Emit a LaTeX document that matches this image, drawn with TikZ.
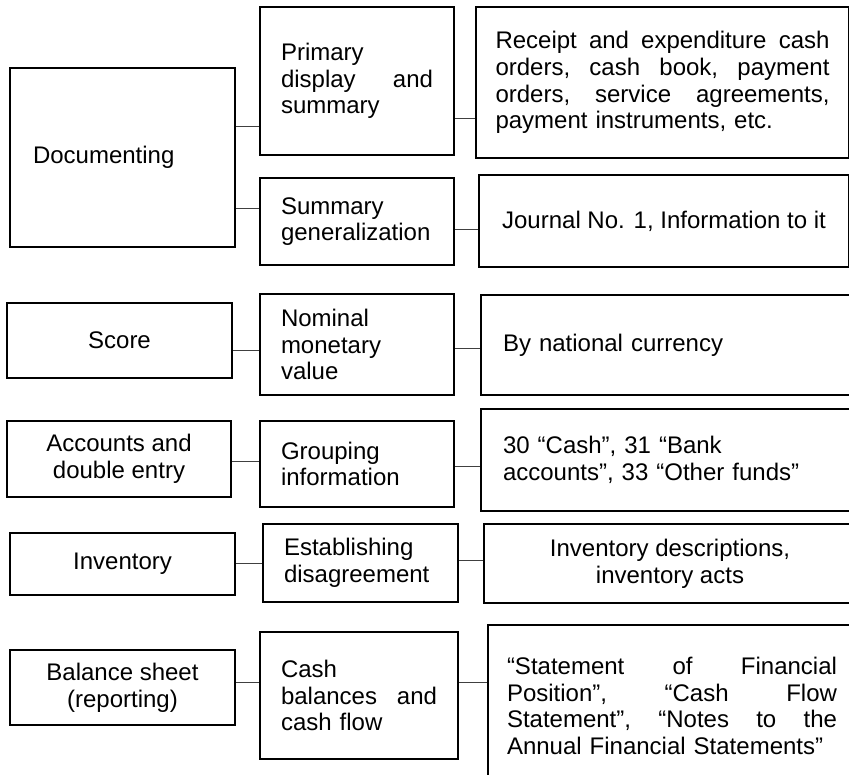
\documentclass[tikz,border=0pt]{standalone}
\usepackage{fontspec}
\setmainfont{Liberation Sans}
\usepackage{tikz}
\usetikzlibrary{positioning, calc}
\tikzset{cell/.style = {
  % Rectangle:
  rectangle,
  draw=black, line width=2pt,
  inner xsep=0pt, inner ysep=0pt,
  anchor=north west,
  % Text:
  font=\fontsize{24}{26.7}\selectfont
  }}
\tikzset{lefttext/.style = {
  % Rectangle:
  cell,
  % Text:
  align=left
  }}
\tikzset{midtext/.style = {
  % Rectangle:
  cell,
  % Text:
  align=center
  }}
\tikzset{link/.style = {
  draw=black!75,
  line width=1pt
  }}

\begin{document}
\begin{tikzpicture}[x=1pt, y=-1pt]
  \useasboundingbox (0,0) rectangle (849,775);
  \clip (0,0) rectangle (849,775);
  %
  % Specification of nodes
  %
  \node (doc) [lefttext, minimum width=225pt, minimum height=179pt, text width=179pt] at (9,67) {Documenting};
  \node (score) [midtext, minimum width=225pt, minimum height=75pt] at (6,302) {Score};
  \node (accounts) [midtext, minimum width=224pt, minimum height=76pt] at (6,420) {Accounts and\\double entry};
  \node (inventory) [midtext, minimum width=225pt, minimum height=62pt] at (9,532) {Inventory};
  \node (balance) [midtext, minimum width=225pt, minimum height=75pt] at (9,649) {Balance sheet\\(reporting)};

  \node (primary) [lefttext, minimum width=194pt, minimum height=148pt, text width=152pt] at (259,6) {Primary\\display\hfill and\\summary};
  \node (summary) [lefttext, minimum width=194pt, minimum height=87pt, text width=152pt] at (259,177) {Summary\\generalization};
  \node (nominal) [lefttext, minimum width=194pt, minimum height=101pt, text width=152pt] at (259,293) {Nominal\\monetary\\value};
  \node (grouping) [lefttext, minimum width=194pt, minimum height=86pt, text width=152pt] at (259,420) {Grouping\\information};
  \node (mismatch) [lefttext, minimum width=195pt, minimum height=78pt, text width=153pt] at (262,523) {Establishing\\disagreement};
  \node (cashflow) [lefttext, minimum width=198pt, minimum height=127pt, text width=156pt] at (259,631) {Cash\\balances\hfill and\\cash flow};

  \node (orders) [lefttext, minimum width=373pt, minimum height=151pt, text width=334pt] at (475,6)
    {Receipt\hfill and\hfill expenditure\hfill cash\\orders,\hfill cash\hfill book,\hfill payment\\orders,\hfill service\hfill agreements,\\payment instruments, etc.};
  \node (journal) [midtext, minimum width=370pt, minimum height=92pt] at (478,174) {Journal No. 1, Information to it};
  \node (currency) [lefttext, minimum width=375pt, minimum height=100pt, text width=331pt] at (480,294) {By national currency};
  \node (funds) [lefttext, minimum width=375pt, minimum height=102pt, text width=331pt] at (480,408) {30 “Cash”, 31 “Bank\\accounts”, 33 “Other funds”};
  \node (acts) [midtext, minimum width=372pt, minimum height=79pt] at (483,523) {Inventory descriptions,\\inventory acts};
  \node (reports) [lefttext, minimum width=368pt, minimum height=162pt, text width=330pt] at (487,624)
    {“Statement\hfill of\hfill Financial\\Position”,\hfill “Cash\hfill Flow\\Statement”,\hfill “Notes\hfill to\hfill the\\Annual Financial Statements”};

  %
  % Specification of lines
  %
  \draw [link] (doc.east |- 0,127) -- (primary.west |- 0,127);
  \draw [link] (doc.east |- 0,209) -- (summary.west |- 0,209);
  \draw [link] (primary.east |- 0,119) -- (orders.west |- 0,119);
  \draw [link] (summary.east |- 0,230) -- (journal.west |- 0,230);

  \draw [link] (score.east |- 0,351) -- (nominal.west |- 0,351);
  \draw [link] (nominal.east |- 0,349) -- (currency.west |- 0,349);
  \draw [link] (accounts.east |- 0,462) -- (grouping.west |- 0,462);
  \draw [link] (grouping.east |- 0,467) -- (funds.west |- 0,467);

  \draw [link] (inventory.east |- 0,563) -- (mismatch.west |- 0,563);
  \draw [link] (mismatch.east |- 0,560) -- (acts.west |- 0,560);
  \draw [link] (balance.east |- 0,682) -- (cashflow.west |- 0,682);
  \draw [link] (cashflow.east |- 0,682) -- (reports.west |- 0,682);
\end{tikzpicture}
\end{document}
